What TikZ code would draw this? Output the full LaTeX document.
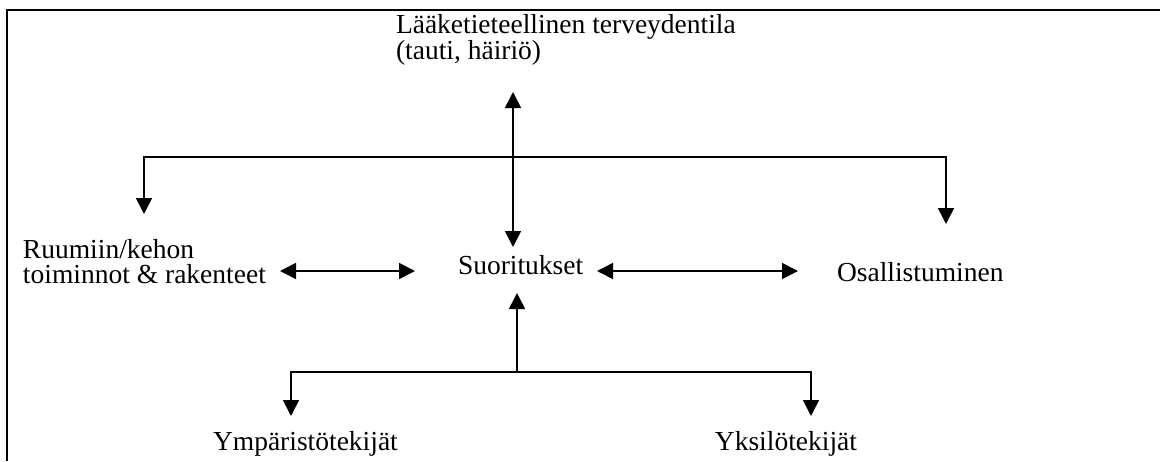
\documentclass[tikz,border=0pt]{standalone}
\usepackage{fontspec}
\setmainfont{Liberation Serif}
\usetikzlibrary{arrows.meta}
\tikzset{
  lbl/.style={inner sep=0pt, outer sep=0pt, font=\fontsize{27.5}{25}\selectfont, align=left},
  conn/.style={line width=1.6pt, -{Triangle[length=16pt,width=16pt]}},
  dconn/.style={line width=1.6pt, {Triangle[length=16pt,width=16pt]}-{Triangle[length=16pt,width=16pt]}},
  frame/.style={line width=2pt}
}
\begin{document}
\begin{tikzpicture}[x=1pt,y=-1pt]
\useasboundingbox[fill=white] (0,0) rectangle (1160,461);
% frame
\coordinate (fbl) at (7,461);
\coordinate (ftl) at (7,9.5);
\coordinate (ftr) at (1160,9.5);
\draw[frame] (fbl) -- (ftl) -- (ftr);
% labels
\node[lbl, anchor=north west] (title) at (396,14) {Lääketieteellinen terveydentila\\(tauti, häiriö)};
\node[lbl, anchor=north west] (body) at (23,239) {Ruumiin/kehon\\toiminnot \& rakenteet};
\node[lbl, anchor=base west] (act) at (458,274) {Suoritukset};
\node[lbl, anchor=base west] (part) at (837,281) {Osallistuminen};
\node[lbl, anchor=base west] (env) at (213,450) {Ympäristötekijät};
\node[lbl, anchor=base east] (pers) at (857,450) {Yksilötekijät};
% connector ends
\coordinate (tA) at (513,92);
\coordinate (tB) at (513,247);
\coordinate (hj) at (513,157);
\coordinate (bodyIn) at (144,214);
\coordinate (partIn) at (946,224);
\coordinate (bR) at (415,271);
\coordinate (bL) at (280,271);
\coordinate (aR) at (597,271);
\coordinate (pL) at (798,271);
\coordinate (aB) at (517,293);
\coordinate (bj) at (517,372);
\coordinate (envIn) at (291,416);
\coordinate (persIn) at (811,416);
% connectors
\draw[dconn] (tA) -- (tB);
\draw[conn] (hj) -| (bodyIn);
\draw[conn] (hj) -| (partIn);
\draw[dconn] (bL) -- (bR);
\draw[dconn] (aR) -- (pL);
\draw[conn] (bj) -- (aB);
\draw[conn] (bj) -| (envIn);
\draw[conn] (bj) -| (persIn);
\end{tikzpicture}
\end{document}
